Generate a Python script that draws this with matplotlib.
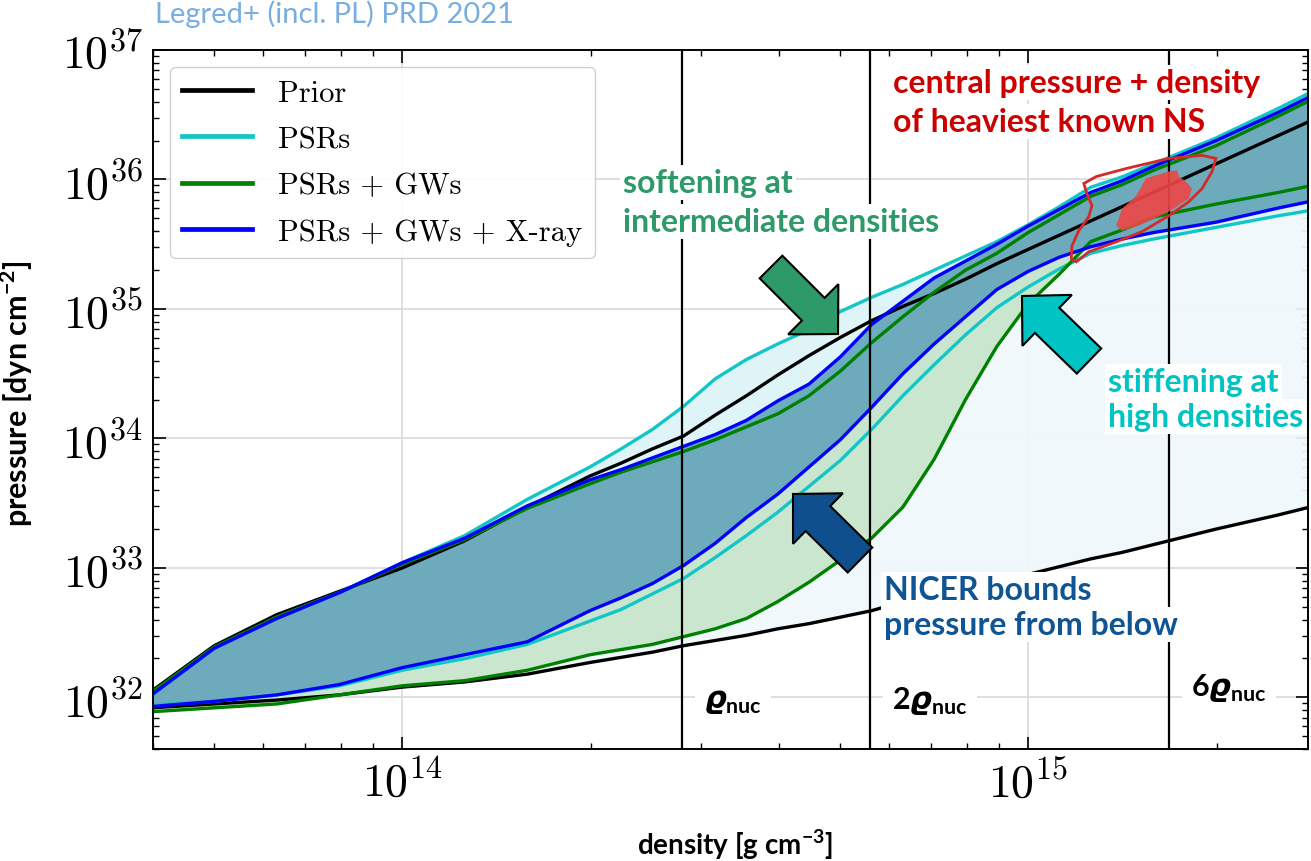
import numpy as np
import matplotlib
matplotlib.use("Agg")
import matplotlib.pyplot as plt
from matplotlib.patches import FancyArrow, Polygon
from matplotlib.transforms import Affine2D
from matplotlib.lines import Line2D
from matplotlib.ticker import NullFormatter

plt.rcParams["mathtext.fontset"] = "cm"
plt.rcParams["mathtext.rm"] = "Lato"
plt.rcParams["mathtext.bf"] = "Lato:bold"
plt.rcParams["mathtext.it"] = "DejaVu Sans:italic:bold"
plt.rcParams["axes.formatter.use_mathtext"] = True

# ---------------------------------------------------------------- data
# log10 of density [g cm^-3]
log_rho = [13.60, 13.70, 13.80, 13.90, 14.00, 14.10, 14.20, 14.30, 14.35, 14.40,
           14.45, 14.50, 14.55, 14.60, 14.65, 14.70, 14.75, 14.80, 14.85, 14.90,
           14.95, 15.00, 15.05, 15.10, 15.15, 15.20, 15.30, 15.40, 15.45]

# log10 of pressure [dyn cm^-2], 90% bounds for each analysis
prior_lo = [31.92, 31.95, 31.98, 32.02, 32.08, 32.12, 32.18, 32.27, 32.31, 32.35,
            32.40, 32.44, 32.48, 32.53, 32.57, 32.62, 32.67, 32.74, 32.79, 32.85,
            32.90, 32.95, 33.01, 33.07, 33.12, 33.18, 33.30, 33.41, 33.47]
prior_hi = [32.05, 32.40, 32.64, 32.82, 33.00, 33.21, 33.47, 33.71, 33.81, 33.92,
            34.02, 34.18, 34.33, 34.49, 34.64, 34.78, 34.91, 35.02, 35.12, 35.23,
            35.35, 35.46, 35.57, 35.68, 35.79, 35.90, 36.12, 36.34, 36.45]
psr_lo = [31.94, 31.97, 32.02, 32.09, 32.21, 32.30, 32.41, 32.59, 32.68, 32.80,
          32.92, 33.08, 33.25, 33.43, 33.63, 33.83, 34.07, 34.33, 34.57, 34.80,
          35.01, 35.17, 35.31, 35.43, 35.49, 35.54, 35.63, 35.72, 35.76]
psr_hi = [32.02, 32.38, 32.62, 32.81, 33.04, 33.25, 33.53, 33.78, 33.92, 34.07,
          34.25, 34.46, 34.61, 34.73, 34.84, 34.98, 35.09, 35.19, 35.30, 35.41,
          35.52, 35.65, 35.79, 35.94, 36.02, 36.12, 36.32, 36.55, 36.67]
gw_lo = [31.89, 31.92, 31.95, 32.02, 32.09, 32.13, 32.21, 32.33, 32.37, 32.41,
         32.47, 32.53, 32.61, 32.74, 32.89, 33.06, 33.23, 33.47, 33.84, 34.30,
         34.71, 35.04, 35.27, 35.52, 35.61, 35.71, 35.81, 35.90, 35.95]
gw_hi = [32.04, 32.39, 32.62, 32.81, 33.03, 33.22, 33.46, 33.65, 33.74, 33.82,
         33.90, 33.99, 34.09, 34.19, 34.33, 34.52, 34.74, 34.94, 35.13, 35.30,
         35.43, 35.59, 35.73, 35.87, 35.96, 36.07, 36.26, 36.49, 36.61]
xray_lo = [31.93, 31.97, 32.02, 32.10, 32.23, 32.33, 32.43, 32.67, 32.77, 32.88,
           33.02, 33.19, 33.39, 33.57, 33.78, 33.99, 34.24, 34.50, 34.73, 34.94,
           35.15, 35.29, 35.40, 35.48, 35.54, 35.59, 35.67, 35.78, 35.83]
xray_hi = [32.02, 32.38, 32.61, 32.81, 33.04, 33.23, 33.48, 33.68, 33.76, 33.85,
           33.94, 34.03, 34.14, 34.29, 34.42, 34.63, 34.88, 35.06, 35.24, 35.37,
           35.50, 35.64, 35.77, 35.90, 35.99, 36.10, 36.30, 36.52, 36.64]

series_labels = ["Prior", "PSRs", "PSRs + GWs", "PSRs + GWs + X-ray"]

# central density / pressure of the heaviest known neutron star (log10)
ns_outline_rho = [15.300, 15.294, 15.278, 15.257, 15.225, 15.182, 15.141, 15.097,
                  15.077, 15.069, 15.070, 15.081, 15.097, 15.102, 15.094, 15.089,
                  15.109, 15.157, 15.225, 15.278]
ns_outline_p = [36.163, 36.062, 35.930, 35.829, 35.721, 35.597, 35.519, 35.442,
                35.364, 35.388, 35.488, 35.605, 35.713, 35.798, 35.891, 35.969,
                36.023, 36.085, 36.163, 36.186]
ns_core_rho = [15.188, 15.225, 15.238, 15.241, 15.252, 15.262, 15.257, 15.225,
               15.177, 15.150, 15.141, 15.150, 15.173, 15.182]
ns_core_p = [36.008, 36.062, 36.070, 36.023, 35.984, 35.930, 35.853, 35.752,
             35.643, 35.605, 35.643, 35.775, 35.876, 35.953]

rho_nuc = 2.8e14
rho_multiples = [1, 2, 6]
rho_tick_labels = [r"$\varrho_{\mathbf{nuc}}$", r"$\mathbf{2}\varrho_{\mathbf{nuc}}$",
                   r"$\mathbf{6}\varrho_{\mathbf{nuc}}$"]

# ---------------------------------------------------------------- figure
W, H, DPI = 1311, 862, 100
fig = plt.figure(figsize=(W / DPI, H / DPI), dpi=DPI)
pix = Affine2D().scale(1, -1).translate(0, H)  # top-left pixel coordinates

ax = fig.add_axes([153 / W, 1 - 750 / H, (1308 - 153) / W, (750 - 51) / H])
ax.set_xscale("log")
ax.set_yscale("log")
ax.set_xlim(4e13, 2.8e15)
ax.set_ylim(4e31, 1e37)
ax.set_axisbelow(True)
ax.grid(True, which="major", color="#dcdcdc", lw=1.3)

rho = 10 ** np.asarray(log_rho)
bands = [
    (prior_lo, prior_hi, "#eff8fb", "black"),
    (psr_lo, psr_hi, "#ddf4f6", "#12c6c8"),
    (gw_lo, gw_hi, "#c7e5cc", "#008000"),
    (xray_lo, xray_hi, "#65a6bb", "#0000ff"),
]
for lo, hi, fc, _ in bands:
    ax.fill_between(rho, 10 ** np.asarray(lo), 10 ** np.asarray(hi),
                    color=fc, lw=0, alpha=0.93, zorder=1)
handles = []
for lo, hi, _, lc in bands:
    for b in (lo, hi):
        ax.plot(rho, 10 ** np.asarray(b), color=lc, lw=2.4, zorder=2,
                solid_joinstyle="round")
    handles.append(Line2D([], [], color=lc, lw=3.4))

for m, lab in zip(rho_multiples, rho_tick_labels):
    ax.axvline(m * rho_nuc, color="black", lw=1.6, zorder=3)
    yfrac = 0.089 if m == 6 else 0.07
    ax.annotate(lab, xy=(m * rho_nuc, yfrac), xycoords=("data", "axes fraction"),
                xytext=(22, 0), textcoords="offset pixels", ha="left", va="center",
                fontsize=22, math_fontfamily="custom", zorder=4,
                bbox=dict(boxstyle="square,pad=0.3", fc="white", ec="none"))

# heaviest known neutron star
ax.add_patch(Polygon(np.column_stack([10 ** np.asarray(ns_core_rho),
                                      10 ** np.asarray(ns_core_p)]),
                     closed=True, fc="#f04545", ec="none", alpha=0.9, zorder=5))
ax.add_patch(Polygon(np.column_stack([10 ** np.asarray(ns_outline_rho),
                                      10 ** np.asarray(ns_outline_p)]),
                     closed=True, fill=False, ec="#d42a2a", lw=2, zorder=5))

# ticks
ax.tick_params(which="both", direction="in", top=True, right=True)
ax.tick_params(which="major", length=9, width=1.2, labelsize=33, pad=7,
               labelfontfamily="cmr10")
ax.tick_params(which="minor", length=4.5, width=1)
ax.xaxis.set_minor_formatter(NullFormatter())
ax.yaxis.set_minor_formatter(NullFormatter())
for s in ax.spines.values():
    s.set_linewidth(1.4)

leg = ax.legend(handles, series_labels, loc="upper left",
                bbox_to_anchor=(0.0147, 0.9757), borderaxespad=0,
                prop={"family": "cmr10", "size": 22}, handlelength=2.3,
                handletextpad=0.85, labelspacing=0.62, framealpha=0.9,
                edgecolor="#cccccc", fancybox=True)
leg.set_zorder(10)

# axis titles
fig.text(17, 394, r"pressure [dyn cm$^{\mathbf{-2}}$]", transform=pix,
         rotation=90, ha="center", va="center", fontsize=22, fontweight="bold",
         family="Lato", math_fontfamily="custom")
fig.text(735, 855, r"density [g cm$^{\mathbf{-3}}$]", transform=pix,
         ha="center", va="baseline", fontsize=20, fontweight="bold",
         family="Lato", math_fontfamily="custom")
fig.text(155, 23, "Legred+ (incl. PL) PRD 2021", transform=pix, ha="left",
         va="baseline", fontsize=21, family="Lato", color="#78aee0")

# annotations
box = dict(boxstyle="square,pad=0.1", fc="white", ec="none")
notes = [
    (893, [93, 132], ["central pressure + density", "of heaviest known NS"], "#cc0000"),
    (623, [193, 232], ["softening at", "intermediate densities"], "#2e9a6a"),
    (1108, [392, 427], ["stiffening at", "high densities"], "#00c4c4"),
    (884, [600, 635], ["NICER bounds", "pressure from below"], "#0f5596"),
]
for x0, ys, lines, col in notes:
    for yb, txt in zip(ys, lines):
        fig.text(x0, yb, txt, transform=pix, ha="left", va="baseline",
                 fontsize=23, fontweight="bold", family="Lato", color=col,
                 bbox=box, zorder=6)

arrows = [
    (771, 268, 67, 67, 32, "#2e9a6a"),
    (1089, 362, -67, -65, 35, "#00c4c4"),
    (860, 561, -67, -66, 35, "#0f4f8e"),
]
for x0, y0, dx, dy, w, col in arrows:
    fig.add_artist(FancyArrow(x0, y0, dx, dy, width=w, head_width=71,
                              head_length=35, length_includes_head=True,
                              fc=col, ec="black", lw=1.5, transform=pix,
                              zorder=7))

fig.savefig("out.png", dpi=DPI)
